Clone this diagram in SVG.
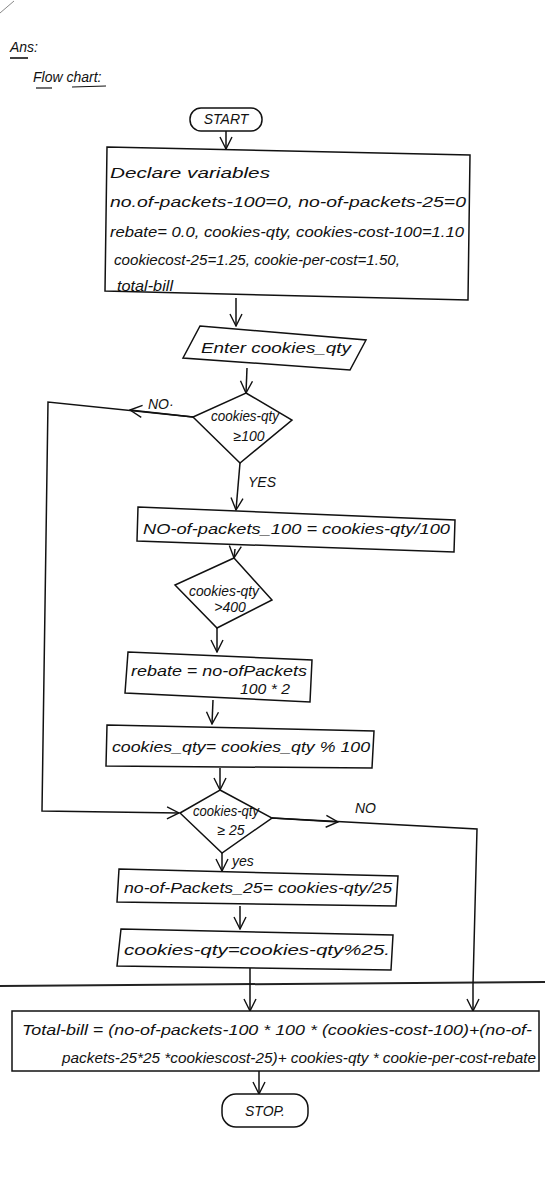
<svg xmlns="http://www.w3.org/2000/svg" width="560" height="1199" viewBox="0 0 560 1199">
<defs>
<marker id="arr" viewBox="0 0 14 14" refX="13" refY="7" markerWidth="14" markerHeight="14" markerUnits="userSpaceOnUse" orient="auto">
<polyline points="1,1 13,7 1,13" fill="none" stroke="#111" stroke-width="1.4"/>
</marker>
<style>
.s{fill:none;stroke:#111;stroke-width:1.5}
.b{fill:#fff;stroke:#111;stroke-width:1.5}
.t{font-family:"Liberation Sans",Arial,sans-serif;font-style:italic;font-size:14px;fill:#111}
.c{text-anchor:middle}
.ln{fill:none;stroke:#111;stroke-width:1.5;marker-end:url(#arr)}
</style>
</defs>
<rect width="560" height="1199" fill="#fff"/>
<line x1="0" y1="13" x2="14" y2="1" stroke="#888" stroke-width="1"/>
<line x1="0" y1="986" x2="545" y2="982" stroke="#222" stroke-width="2"/>
<g id="title">
<text class="t" x="10" y="52" font-size="15">Ans:</text>
<line x1="10" y1="58" x2="28" y2="58" stroke="#111" stroke-width="1.6"/>
<text class="t" x="33" y="82" font-size="15">Flow chart:</text>
<line x1="36" y1="88" x2="52" y2="88" stroke="#111" stroke-width="1.2"/>
<line x1="72" y1="87" x2="106" y2="86" stroke="#111" stroke-width="1.2"/>
</g>
<g id="connectors">
<line class="ln" x1="226" y1="131" x2="226" y2="149"/>
<line class="ln" x1="236" y1="298" x2="236" y2="326"/>
<line class="ln" x1="247" y1="368" x2="246" y2="393"/>
<polyline class="ln" points="193,417 48,402 42,811 179,813"/>
<line class="ln" x1="193" y1="417" x2="130" y2="410"/>
<line class="ln" x1="240" y1="463" x2="236" y2="510"/>
<line class="ln" x1="235" y1="549" x2="234" y2="558"/>
<line class="ln" x1="217" y1="628" x2="217" y2="652"/>
<line class="ln" x1="213" y1="700" x2="212" y2="724"/>
<line class="ln" x1="220" y1="768" x2="220" y2="790"/>
<polyline class="s" points="272,818 477,829 473,985"/>
<line class="ln" x1="272" y1="818" x2="338" y2="822"/>
<line class="ln" x1="473" y1="985" x2="473" y2="1011"/>
<line class="ln" x1="222" y1="853" x2="222" y2="871"/>
<line class="ln" x1="240" y1="906" x2="240" y2="929"/>
<line class="ln" x1="250" y1="968" x2="250" y2="1011"/>
<line class="ln" x1="259" y1="1071" x2="259" y2="1094"/>
<text class="t" x="148" y="409">NO·</text>
<text class="t" x="248" y="487">YES</text>
<text class="t" x="355" y="813">NO</text>
<text class="t" x="232" y="866">yes</text>
</g>
<g id="start">
<rect class="b" x="190" y="108" width="72" height="23" rx="11"/>
<text class="t c" x="226" y="124">START</text>
</g>
<g id="declare">
<polygon class="b" points="107,147 470,155 468,300 105,291"/>
<text class="t" x="110" y="178" textLength="160" lengthAdjust="spacingAndGlyphs">Declare variables</text>
<text class="t" x="110" y="207" textLength="356" lengthAdjust="spacingAndGlyphs">no.of-packets-100=0, no-of-packets-25=0</text>
<text class="t" x="110" y="237" textLength="354" lengthAdjust="spacingAndGlyphs">rebate= 0.0, cookies-qty, cookies-cost-100=1.10</text>
<text class="t" x="114" y="265" textLength="286" lengthAdjust="spacingAndGlyphs">cookiecost-25=1.25, cookie-per-cost=1.50,</text>
<text class="t" x="117" y="291" textLength="56" lengthAdjust="spacingAndGlyphs">total-bill</text>
</g>
<g id="input">
<polygon class="b" points="200,326 366,340 350,370 183,358"/>
<text class="t c" x="276" y="353" textLength="150" lengthAdjust="spacingAndGlyphs">Enter cookies_qty</text>
</g>
<g id="dec100">
<polygon class="b" points="246,393 292,420 240,463 193,417"/>
<text class="t c" x="245" y="421" font-size="12" textLength="68" lengthAdjust="spacingAndGlyphs">cookies-qty</text>
<text class="t c" x="249" y="441" font-size="13">≥100</text>
</g>
<g id="packets100">
<polygon class="b" points="138,507 455,520 454,552 137,541"/>
<text class="t" x="143" y="534" font-size="15" textLength="307" lengthAdjust="spacingAndGlyphs">NO-of-packets_100 = cookies-qty/100</text>
</g>
<g id="dec400">
<polygon class="b" points="234,558 272,600 217,628 175,585"/>
<text class="t c" x="224" y="596" font-size="12" textLength="70" lengthAdjust="spacingAndGlyphs">cookies-qty</text>
<text class="t c" x="230" y="612" font-size="12">&gt;400</text>
</g>
<g id="rebate">
<polygon class="b" points="128,652 312,660 310,702 125,693"/>
<text class="t" x="131" y="676" textLength="176" lengthAdjust="spacingAndGlyphs">rebate = no-ofPackets</text>
<text class="t" x="240" y="694" textLength="50" lengthAdjust="spacingAndGlyphs">100 * 2</text>
</g>
<g id="mod100">
<polygon class="b" points="107,725 374,731 372,768 106,766"/>
<text class="t" x="112" y="752" font-size="15" textLength="258" lengthAdjust="spacingAndGlyphs">cookies_qty= cookies_qty % 100</text>
</g>
<g id="dec25">
<polygon class="b" points="220,790 272,818 222,853 180,813"/>
<text class="t c" x="226" y="816" font-size="12" textLength="66" lengthAdjust="spacingAndGlyphs">cookies-qty</text>
<text class="t c" x="231" y="835" font-size="12">≥ 25</text>
</g>
<g id="packets25">
<polygon class="b" points="119,869 398,876 396,906 117,902"/>
<text class="t" x="124" y="893" font-size="15" textLength="268" lengthAdjust="spacingAndGlyphs">no-of-Packets_25= cookies-qty/25</text>
</g>
<g id="mod25">
<polygon class="b" points="121,929 393,935 391,970 117,966"/>
<text class="t" x="124" y="955" font-size="15" textLength="266" lengthAdjust="spacingAndGlyphs">cookies-qty=cookies-qty%25.</text>
</g>
<g id="total">
<rect class="b" x="12" y="1011" width="527" height="60"/>
<text class="t" x="22" y="1035" textLength="510" lengthAdjust="spacingAndGlyphs">Total-bill = (no-of-packets-100 * 100 * (cookies-cost-100)+(no-of-</text>
<text class="t" x="62" y="1063" textLength="474" lengthAdjust="spacingAndGlyphs">packets-25*25 *cookiescost-25)+ cookies-qty * cookie-per-cost-rebate</text>
</g>
<g id="stop">
<rect class="b" x="222" y="1094" width="86" height="33" rx="14"/>
<text class="t c" x="265" y="1116" font-size="15">STOP.</text>
</g>
</svg>
